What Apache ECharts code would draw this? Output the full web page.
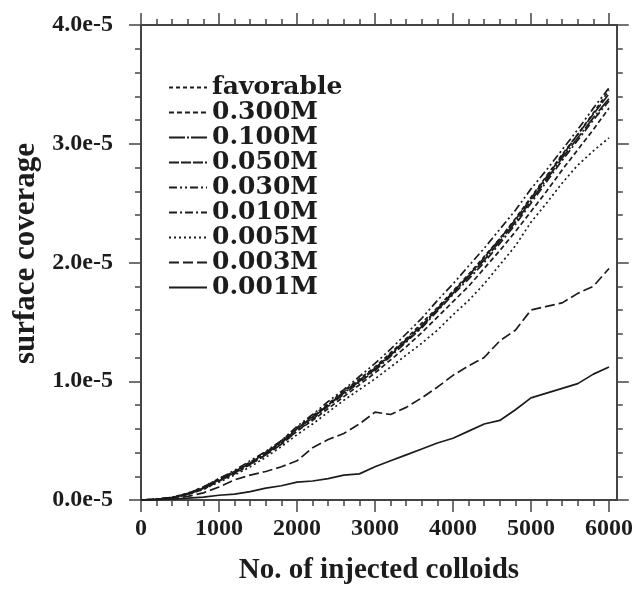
<!DOCTYPE html>
<html>
<head>
<meta charset="utf-8">
<script src="https://cdn.jsdelivr.net/npm/echarts@6/dist/echarts.min.js"></script>
<style>
  html, body { margin: 0; padding: 0; background: #fff; }
  #chart { width: 636px; height: 590px; }
</style>
</head>
<body>
<div id="chart"></div>
<script>
// injected colloids (x) and surface coverage in units of 1e-5 (y)
const injected = [0, 200, 400, 600, 800, 1000, 1200, 1400, 1600, 1800, 2000, 2200, 2400, 2600, 2800, 3000,
  3200, 3400, 3600, 3800, 4000, 4200, 4400, 4600, 4800, 5000, 5200, 5400, 5600, 5800, 6000]

const favorable = [0, 0.006, 0.022, 0.055, 0.11, 0.18, 0.24, 0.32, 0.4, 0.5, 0.61, 0.71, 0.81, 0.92, 1.02, 1.12,
  1.24, 1.36, 1.49, 1.62, 1.76, 1.9, 2.05, 2.2, 2.37, 2.55, 2.73, 2.91, 3.08, 3.26, 3.45]
const m0300 = [0, 0.005, 0.018, 0.045, 0.09, 0.16, 0.22, 0.3, 0.38, 0.47, 0.58, 0.67, 0.77, 0.87, 0.97, 1.07,
  1.18, 1.29, 1.41, 1.54, 1.67, 1.8, 1.95, 2.1, 2.26, 2.43, 2.6, 2.78, 2.95, 3.12, 3.3]
const m0100 = [0, 0.005, 0.02, 0.05, 0.1, 0.17, 0.23, 0.31, 0.39, 0.48, 0.6, 0.69, 0.8, 0.9, 1.0, 1.1,
  1.22, 1.34, 1.46, 1.6, 1.74, 1.88, 2.02, 2.18, 2.34, 2.52, 2.7, 2.88, 3.05, 3.22, 3.38]
const m0050 = [0, 0.006, 0.021, 0.052, 0.1, 0.17, 0.24, 0.31, 0.4, 0.49, 0.6, 0.7, 0.8, 0.91, 1.01, 1.11,
  1.23, 1.35, 1.47, 1.61, 1.75, 1.89, 2.04, 2.2, 2.36, 2.54, 2.72, 2.9, 3.08, 3.25, 3.42]
const m0030 = [0, 0.006, 0.023, 0.056, 0.11, 0.18, 0.25, 0.33, 0.41, 0.5, 0.62, 0.72, 0.83, 0.93, 1.04, 1.15,
  1.27, 1.4, 1.53, 1.68, 1.82, 1.97, 2.12, 2.28, 2.44, 2.62, 2.78, 2.95, 3.12, 3.3, 3.47]
const m0010 = [0, 0.005, 0.02, 0.05, 0.1, 0.16, 0.23, 0.3, 0.38, 0.47, 0.58, 0.68, 0.79, 0.89, 0.99, 1.09,
  1.21, 1.33, 1.45, 1.59, 1.73, 1.86, 2.0, 2.16, 2.32, 2.5, 2.68, 2.86, 3.03, 3.2, 3.36]
const m0005 = [0, 0.005, 0.02, 0.05, 0.09, 0.15, 0.21, 0.28, 0.36, 0.45, 0.55, 0.64, 0.74, 0.84, 0.93, 1.02,
  1.12, 1.22, 1.32, 1.43, 1.56, 1.68, 1.82, 1.98, 2.14, 2.34, 2.5, 2.67, 2.82, 2.94, 3.05]
const m0003 = [0, 0.003, 0.01, 0.03, 0.06, 0.11, 0.17, 0.21, 0.24, 0.28, 0.33, 0.44, 0.51, 0.56, 0.64, 0.74,
  0.72, 0.78, 0.86, 0.95, 1.05, 1.13, 1.2, 1.34, 1.43, 1.6, 1.63, 1.66, 1.74, 1.8, 1.95]
const m0001 = [0, 0.002, 0.008, 0.015, 0.025, 0.04, 0.05, 0.07, 0.1, 0.12, 0.15, 0.16, 0.18, 0.21, 0.22, 0.28,
  0.33, 0.38, 0.43, 0.48, 0.52, 0.58, 0.64, 0.67, 0.76, 0.86, 0.9, 0.94, 0.98, 1.06, 1.12]

const seriesNames = ['favorable', '0.300M', '0.100M', '0.050M', '0.030M', '0.010M', '0.005M', '0.003M', '0.001M']
const seriesValues = [favorable, m0300, m0100, m0050, m0030, m0010, m0005, m0003, m0001]
const dashes = [[4, 3], [5, 3], [16, 2, 2, 2], [10, 2], [8, 3, 2, 3, 2, 3], [8, 3, 2, 3], [2, 3], [10, 4], 'solid']

const xMajorTicks = [0, 1000, 2000, 3000, 4000, 5000, 6000]
const xMinorTicks = [200, 400, 600, 800, 1200, 1400, 1600, 1800, 2200, 2400, 2600, 2800, 3200, 3400, 3600, 3800,
  4200, 4400, 4600, 4800, 5200, 5400, 5600, 5800]

const ink = '#1c1c1c'
const frame = '#444'
const serif = '"Liberation Serif", "Times New Roman", serif'

function xAxisPart(position, ticks, len, labels) {
  return {
    type: 'value', position: position, min: 0, max: 6100,
    axisLine: { show: true, onZero: false, lineStyle: { color: frame, width: 2 } },
    axisTick: { show: true, customValues: ticks, length: len, lineStyle: { color: frame, width: 1.5 } },
    axisLabel: labels ? {
      customValues: ticks, margin: 17, color: ink,
      fontFamily: serif, fontWeight: 'bold', fontSize: 24,
      formatter: (v) => String(v)
    } : { show: false },
    splitLine: { show: false }
  }
}

const bottomAxis = xAxisPart('bottom', xMajorTicks, 12, true)
bottomAxis.name = 'No. of injected colloids'
bottomAxis.nameLocation = 'middle'
bottomAxis.nameGap = 56
bottomAxis.nameTextStyle = { fontFamily: serif, fontWeight: 'bold', fontSize: 29, color: ink }

function yAxisPart(position, labels) {
  return {
    type: 'value', position: position, min: 0, max: 4, interval: 1,
    axisLine: { show: true, onZero: false, lineStyle: { color: frame, width: 2 } },
    axisTick: { show: true, length: 12, lineStyle: { color: frame, width: 1.5 } },
    minorTick: { show: true, splitNumber: 5, length: 6, lineStyle: { color: frame, width: 1.5 } },
    axisLabel: labels ? {
      margin: 28, color: ink, fontFamily: serif, fontWeight: 'bold', fontSize: 24,
      formatter: (v) => v.toFixed(1) + 'e-5'
    } : { show: false },
    splitLine: { show: false }
  }
}

const leftAxis = yAxisPart('left', true)
leftAxis.name = 'surface coverage'
leftAxis.nameLocation = 'middle'
leftAxis.nameGap = 93
leftAxis.nameTextStyle = { fontFamily: serif, fontWeight: 'bold', fontSize: 31, color: ink, padding: [0, 0, 0, 18] }

const chart = echarts.init(document.getElementById('chart'), null, { renderer: 'canvas' })
chart.setOption({
  backgroundColor: '#fff',
  animation: false,
  grid: { left: 141, right: 17, top: 25, bottom: 87 },
  legend: {
    orient: 'vertical', left: 168, top: 75, padding: 0,
    itemWidth: 38, itemHeight: 12, itemGap: 0,
    data: seriesNames,
    itemStyle: { opacity: 0 },
    textStyle: { fontFamily: '"DejaVu Serif", serif', fontWeight: 'bold', fontSize: 25, lineHeight: 24.5, color: ink }
  },
  xAxis: [
    bottomAxis,
    xAxisPart('bottom', xMinorTicks, 6, false),
    xAxisPart('top', xMajorTicks, 12, false),
    xAxisPart('top', xMinorTicks, 6, false)
  ],
  yAxis: [leftAxis, yAxisPart('right', false)],
  series: seriesNames.map((name, i) => ({
    name: name,
    type: 'line',
    xAxisIndex: 0,
    yAxisIndex: 0,
    showSymbol: false,
    symbol: 'none',
    data: injected.map((x, j) => [x, seriesValues[i][j]]),
    lineStyle: { color: ink, width: 1.7, type: dashes[i] },
    itemStyle: { color: ink }
  }))
})
</script>
</body>
</html>
